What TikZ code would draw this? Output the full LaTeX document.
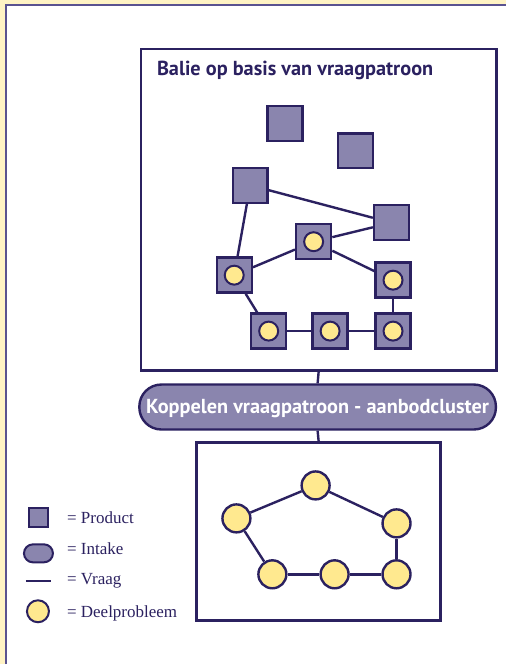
\documentclass[tikz,border=0pt]{standalone}
\usepackage{fontspec}
\setmainfont{Liberation Serif}
\newfontfamily\headfont{PT Sans}
\definecolor{navy}{HTML}{2B2160}
\definecolor{prodfill}{HTML}{8A85AE}
\definecolor{deelfill}{HTML}{FFE98F}
\definecolor{bgyellow}{HTML}{FFF3C4}
\definecolor{framecol}{HTML}{5A5290}
\tikzset{
  link/.style={draw=navy, line width=2.4pt},
  prod/.style={rectangle, draw=navy, fill=prodfill, line width=2.4pt, minimum size=35pt, inner sep=0pt},
  deelsmall/.style={circle, draw=navy, fill=deelfill, line width=2pt, minimum size=19pt, inner sep=0pt},
  deel/.style={circle, draw=navy, fill=deelfill, line width=2.4pt, minimum size=28pt, inner sep=0pt},
  panel/.style={draw=navy, line width=2.6pt},
  intake/.style={rectangle, draw=navy, fill=prodfill, line width=2.4pt, rounded corners=22pt,
    minimum width=357pt, minimum height=45pt, inner sep=0pt},
  headtext/.style={inner sep=0pt, font=\headfont\bfseries\fontsize{20.3}{22}\selectfont},
  legtext/.style={anchor=base west, inner sep=0pt, text=navy, font=\fontsize{17}{19}\selectfont},
}
\begin{document}
\begin{tikzpicture}[x=1pt,y=-1pt]
% page background with frame
\fill[bgyellow] (0,0) rectangle (507,665);
\fill[white] (5,4) rectangle (507,665);
\draw[framecol, line width=1.6pt] (5.8,665) -- (5.8,4.8) -- (507,4.8);
\useasboundingbox (0,0) rectangle (507,665);

% upper panel
\node[panel, rectangle, minimum width=356pt, minimum height=322pt, inner sep=0pt] (top) at (319,210) {};
\node[headtext, anchor=base west, text=navy] (title) at (157,75.5) {Balie op basis van vraagpatroon};

% products
\node[prod] (s1) at (285.5,123.5) {};
\node[prod] (s2) at (356,151) {};
\node[prod] (s3) at (250.5,185.5) {};
\node[prod] (s4) at (392,223) {};
\node[prod] (s5) at (314,242) {};
\node[prod] (s6) at (234.5,275.5) {};
\node[prod] (s7) at (393.5,280.5) {};
\node[prod] (s8) at (269,331.5) {};
\node[prod] (s9) at (330.5,331.5) {};
\node[prod] (s10) at (393.5,331.5) {};
\foreach \s in {5,6,7,8,9,10} \node[deelsmall] (d\s) at (s\s.center) {};

% vragen tussen producten
\draw[link] (s3) -- (s4);
\draw[link] (s3) -- (s6);
\draw[link] (s5) -- (s4);
\draw[link] (s5) -- (s6);
\draw[link] (s5) -- (s7);
\draw[link] (s6) -- (s8);
\draw[link] (s8) -- (s9);
\draw[link] (s9) -- (s10);
\draw[link] (s7) -- (s10);

% intake
\node[intake] (pill) at (318,407.5) {};
\node[headtext, text=white, anchor=base] (pilltext) at (318,414) {Koppelen vraagpatroon - aanbodcluster};
\draw[link] (top.south) -- (pill.north);

% lower panel
\node[panel, rectangle, minimum width=244pt, minimum height=178pt, inner sep=0pt] (bottom) at (319,532) {};
\draw[link] (pill.south) -- (bottom.north);

\node[deel] (c1) at (236.7,519) {};
\node[deel] (c2) at (316,486) {};
\node[deel] (c3) at (397,524) {};
\node[deel] (c4) at (272.7,575) {};
\node[deel] (c5) at (335,575) {};
\node[deel] (c6) at (397,575) {};
\draw[link] (c1) -- (c2);
\draw[link] (c2) -- (c3);
\draw[link] (c3) -- (c6);
\draw[link] (c1) -- (c4);
\draw[link] (c4) -- (c5);
\draw[link] (c5) -- (c6);

% legend
\node[rectangle, draw=navy, fill=prodfill, line width=2pt, minimum size=19pt, inner sep=0pt] (lprod) at (38.5,518) {};
\node[rectangle, draw=navy, fill=prodfill, line width=2pt, rounded corners=9pt, minimum width=29pt, minimum height=18pt, inner sep=0pt] (lint) at (38.5,554) {};
\coordinate (lva) at (26,582);
\coordinate (lvb) at (51,582);
\draw[navy, line width=2pt] (lva) -- (lvb);
\node[circle, draw=navy, fill=deelfill, line width=2pt, minimum size=22pt, inner sep=0pt] (ldeel) at (38,612) {};
\node[legtext] (tprod) at (67,524) {= Product};
\node[legtext] (tint) at (67,555) {= Intake};
\node[legtext] (tvr) at (67,585) {= Vraag};
\node[legtext] (tdeel) at (67,618) {= Deelprobleem};
\end{tikzpicture}
\end{document}
